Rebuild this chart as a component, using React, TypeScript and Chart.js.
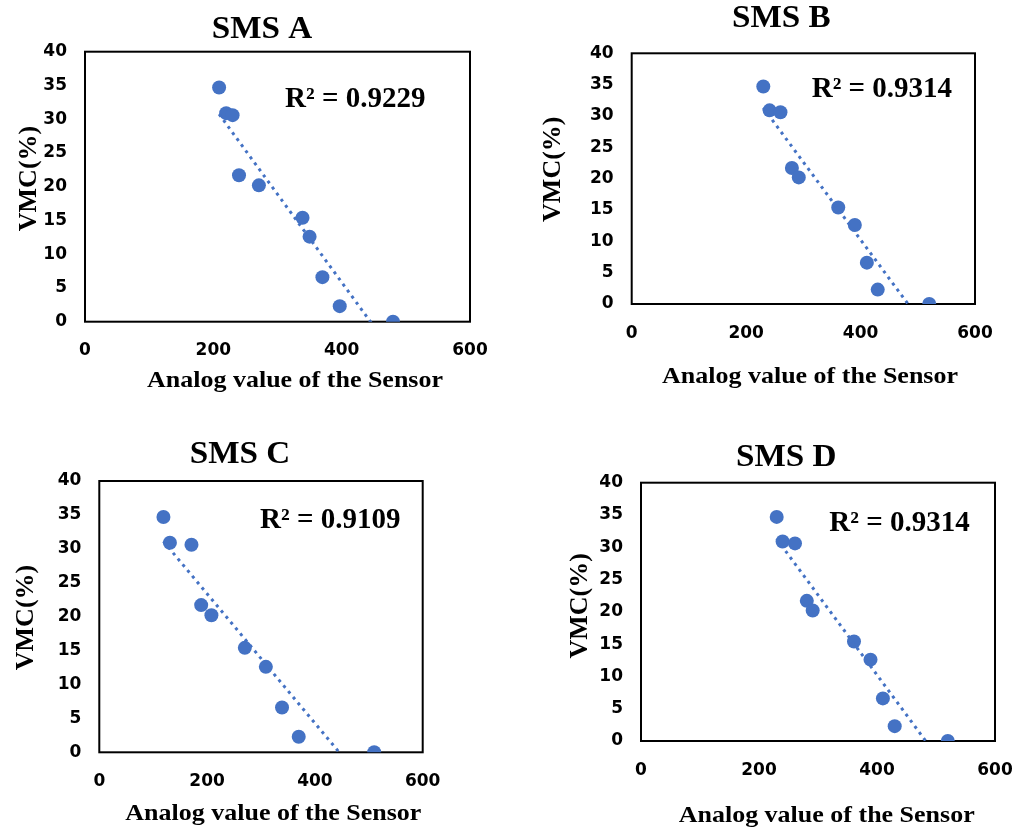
import React, { useEffect, useRef } from "react";
import { Chart, registerables } from "chart.js";

Chart.register(...registerables);

// ---------------- data ----------------
const panelTitles = ["SMS A", "SMS B", "SMS C", "SMS D"];
const r2Labels = ["R² = 0.9229", "R² = 0.9314", "R² = 0.9109", "R² = 0.9314"];
const xAxisTitle = "Analog value of the Sensor";
const yAxisTitle = "VMC(%)";

const vmcValues = [34.7, 30.9, 30.6, 21.7, 20.2, 15.4, 12.6, 6.6, 2.3, 0];

const sensorA = [209, 220, 230, 240, 271, 339, 350, 370, 397, 480];
const sensorB = [230, 241, 260, 280, 292, 361, 390, 411, 430, 520];
const sensorC = [119, 131, 171, 189, 208, 270, 309, 339, 370, 510];
const sensorD = [230, 240, 261, 281, 291, 361, 389, 410, 430, 520];

const sensorSeries = [sensorA, sensorB, sensorC, sensorD];

const xTickValues = [0, 200, 400, 600];
const yTickValues = [0, 5, 10, 15, 20, 25, 30, 35, 40];

// ---------------- layout (positions / sizes only) ----------------
type PanelLayout = {
  left: number;
  top: number;
  width: number;
  height: number;
  area: [number, number, number, number]; // chart area L,T,R,B in canvas coords
  title: [number, number]; // center x, baseline y
  xTitle: [number, number]; // center x, baseline y
  yTitle: [number, number]; // baseline x, center y
  r2: [number, number]; // left x, baseline y
};

const layouts: PanelLayout[] = [
  { left: 0, top: 0, width: 510, height: 414, area: [85, 51.7, 470, 321.7], title: [262, 38.3], xTitle: [295, 386.7], yTitle: [35.5, 178.5], r2: [285, 106.5] },
  { left: 510, top: 0, width: 511, height: 414, area: [121.7, 53.3, 465, 304], title: [271.3, 26.7], xTitle: [300, 382.5], yTitle: [50, 169.2], r2: [301.7, 96.7] },
  { left: 0, top: 414, width: 510, height: 414, area: [99.3, 67, 422.7, 338.3], title: [240, 49.3], xTitle: [273.3, 406], yTitle: [33, 203.5], r2: [260, 114.3] },
  { left: 510, top: 414, width: 511, height: 414, area: [131, 68.7, 485, 327], title: [276.2, 51.7], xTitle: [316.7, 407.7], yTitle: [77, 191.8], r2: [319.3, 117] },
];

const Y_AXIS_W = 60;
const X_AXIS_H = 40;
const POINT_COLOR = "#4472C4";
const SERIF = '"Liberation Serif", "Times New Roman", serif';
const TICK_FONT = { family: '"DejaVu Sans", sans-serif', size: 17, weight: "bold" as const };

function linearFit(xs: number[], ys: number[]) {
  const n = xs.length;
  const mx = xs.reduce((a, b) => a + b, 0) / n;
  const my = ys.reduce((a, b) => a + b, 0) / n;
  let sxy = 0;
  let sxx = 0;
  for (let i = 0; i < n; i++) {
    sxy += (xs[i] - mx) * (ys[i] - my);
    sxx += (xs[i] - mx) * (xs[i] - mx);
  }
  const m = sxy / sxx;
  return { m, b: my - m * mx };
}

function drawText(
  ctx: CanvasRenderingContext2D,
  text: string,
  x: number,
  y: number,
  size: number,
  align: CanvasTextAlign,
  sx = 1,
  rotate = false
) {
  ctx.save();
  ctx.translate(x, y);
  if (rotate) ctx.rotate(-Math.PI / 2);
  ctx.scale(sx, 1);
  ctx.font = `bold ${size}px ${SERIF}`;
  ctx.fillStyle = "#000";
  ctx.textAlign = align;
  ctx.textBaseline = "alphabetic";
  ctx.fillText(text, 0, 0);
  ctx.restore();
}

function Panel({ index }: { index: number }) {
  const ref = useRef<HTMLCanvasElement | null>(null);
  const lay = layouts[index];

  useEffect(() => {
    if (!ref.current) return;
    const xs = sensorSeries[index];
    const ys = vmcValues;
    const { m, b } = linearFit(xs, ys);
    const minX = Math.min(...xs);
    const maxX = Math.max(...xs);
    const pts = xs.map((x, i) => ({ x, y: ys[i] }));
    const trend = [
      { x: minX, y: m * minX + b },
      { x: maxX, y: m * maxX + b },
    ];
    const [L, T, R, B] = lay.area;

    const framePlugin = {
      id: "frame",
      beforeDatasetsDraw(chart: any) {
        const { ctx, chartArea } = chart;
        ctx.save();
        ctx.strokeStyle = "#000";
        ctx.lineWidth = 2;
        ctx.strokeRect(chartArea.left, chartArea.top, chartArea.right - chartArea.left, chartArea.bottom - chartArea.top);
        ctx.restore();
      },
    };

    const textPlugin = {
      id: "texts",
      afterDraw(chart: any) {
        const ctx = chart.ctx as CanvasRenderingContext2D;
        drawText(ctx, panelTitles[index], lay.title[0], lay.title[1], 31, "center", 1.07);
        drawText(ctx, xAxisTitle, lay.xTitle[0], lay.xTitle[1], 23, "center", 1.13);
        drawText(ctx, yAxisTitle, lay.yTitle[0], lay.yTitle[1], 26, "center", 1, true);
        drawText(ctx, r2Labels[index], lay.r2[0], lay.r2[1], 29, "left", 1);
      },
    };

    const chart = new Chart(ref.current, {
      type: "scatter",
      data: {
        datasets: [
          {
            type: "line",
            label: "Linear trend",
            data: trend,
            borderColor: POINT_COLOR,
            borderWidth: 3,
            borderDash: [3, 4.5],
            pointRadius: 0,
            fill: false,
            showLine: true,
            clip: 0,
            order: 0,
          } as any,
          {
            type: "scatter",
            label: panelTitles[index],
            data: pts,
            backgroundColor: POINT_COLOR,
            borderColor: POINT_COLOR,
            pointRadius: 7,
            pointBorderWidth: 0,
            order: 1,
          } as any,
        ],
      },
      options: {
        animation: false,
        responsive: false,
        maintainAspectRatio: false,
        layout: {
          padding: {
            left: L - Y_AXIS_W,
            top: T,
            right: lay.width - R,
            bottom: lay.height - B - X_AXIS_H,
          },
        },
        plugins: {
          legend: { display: false },
          tooltip: { enabled: false },
          title: { display: false },
        },
        scales: {
          x: {
            type: "linear",
            min: 0,
            max: 600,
            grid: { display: false, drawTicks: false },
            border: { display: false },
            ticks: { font: TICK_FONT, color: "#000", padding: 19, maxRotation: 0, autoSkip: false },
            afterBuildTicks: (s: any) => {
              s.ticks = xTickValues.map((v) => ({ value: v }));
            },
            afterFit: (s: any) => {
              s.height = X_AXIS_H;
              s.paddingLeft = 0;
              s.paddingRight = 0;
              s.paddingTop = 0;
              s.paddingBottom = 0;
            },
          },
          y: {
            type: "linear",
            min: 0,
            max: 40,
            grid: { display: false, drawTicks: false },
            border: { display: false },
            ticks: { font: TICK_FONT, color: "#000", padding: 18, autoSkip: false },
            afterBuildTicks: (s: any) => {
              s.ticks = yTickValues.map((v) => ({ value: v }));
            },
            afterFit: (s: any) => {
              s.width = Y_AXIS_W;
              s.paddingLeft = 0;
              s.paddingRight = 0;
              s.paddingTop = 0;
              s.paddingBottom = 0;
            },
          },
        },
      } as any,
      plugins: [framePlugin, textPlugin],
    });
    return () => chart.destroy();
  }, [index]);

  return (
    <canvas
      ref={ref}
      width={lay.width}
      height={lay.height}
      style={{ position: "absolute", left: lay.left, top: lay.top, width: lay.width, height: lay.height }}
    />
  );
}

export default function App() {
  return (
    <div style={{ position: "absolute", left: 0, top: 0, width: 1021, height: 828, background: "#fff", overflow: "hidden" }}>
      {layouts.map((_, i) => (
        <Panel key={i} index={i} />
      ))}
    </div>
  );
}
